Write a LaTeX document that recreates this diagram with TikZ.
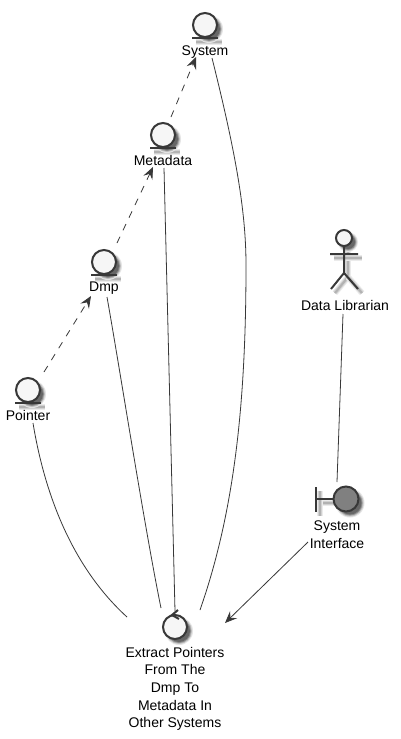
\documentclass[tikz,border=0pt]{standalone}
\usepackage{fontspec}
\setmainfont{Liberation Sans}
\usetikzlibrary{arrows.meta}
\definecolor{ink}{HTML}{383838}
\definecolor{paper}{HTML}{F6F6F6}
\definecolor{bfill}{HTML}{808080}
\tikzset{
  x=1pt,y=-1pt,
  lab/.style={font=\fontsize{14}{17.6}\selectfont,text=black,align=center,inner sep=0pt,anchor=north},
  sym/.style={draw=ink,line width=2pt},
  edge/.style={draw=ink,line width=0.8pt},
  tip/.style={-{Stealth[length=12pt,width=10pt,inset=4.5pt]}},
  dep/.style={edge,tip,dash pattern=on 7pt off 7pt}
}
\newcommand{\softdisc}[3]{% centre x,y radius
  \fill[black!10] (#1+4,#2+4) circle[radius=#3+2];
  \fill[black!25] (#1+4,#2+4) circle[radius=#3+1];
  \fill[black!45] (#1+4,#2+4) circle[radius=#3];
  \fill[black!60] (#1+4,#2+4) circle[radius=#3-1];
}
\newcommand{\softline}[4]{%
  \draw[black!8,line width=6pt] (#1+4,#2+4) -- (#3+4,#4+4);
  \draw[black!18,line width=4pt] (#1+4,#2+4) -- (#3+4,#4+4);
  \draw[black!30,line width=2pt] (#1+4,#2+4) -- (#3+4,#4+4);
}
\newcommand{\entitysym}[2]{%
  \softline{#1-13}{#2+13}{#1+13}{#2+13}\softdisc{#1}{#2}{12}
  \draw[sym,fill=paper] (#1,#2) circle[radius=12];
  \draw[sym] (#1-13,#2+13) -- (#1+13,#2+13);
}
\begin{document}
\begin{tikzpicture}
\useasboundingbox (0,0) rectangle (400,739);
\fill[white] (0,0) rectangle (400,739);

% entities
\entitysym{205}{25}
\entitysym{163}{135}
\entitysym{104}{262}
\entitysym{28}{390}
\node[lab] (system) at (205,45.5) {System};
\node[lab] (metadata) at (163,155) {Metadata};
\node[lab] (dmp) at (104,282) {Dmp};
\node[lab] (pointer) at (28,410) {Pointer};

% actor
\softline{344}{246}{344}{273}
\softline{330}{254}{358}{254}
\softline{344}{273}{331}{289}
\softline{344}{273}{358}{289}
\softdisc{344}{238}{8}
\draw[sym,fill=paper] (344,238) circle[radius=8];
\draw[sym] (344,246) -- (344,273) (330,254) -- (358,254)
           (331,289) -- (344,273) -- (358,289);
\node[lab] (librarian) at (345,300) {Data Librarian};

% boundary
\softline{316}{499}{333}{499}
\softline{316}{487}{316}{512}
\softdisc{346}{499}{12.5}
\draw[sym] (316,487) -- (316,512) (316,499) -- (333,499);
\draw[sym,fill=bfill] (346,499) circle[radius=12.5];
\node[lab] (iface) at (337,521) {System\\Interface};

% control
\softdisc{175}{627}{12}
\draw[sym,fill=paper] (175,627) circle[radius=12];
\draw[sym,line join=miter] (178,610) -- (172,615) -- (179,619);
\node[lab] (usecase) at (175,647) {Extract Pointers\\From The\\Dmp To\\Metadata In\\Other Systems};

% connector ends
\coordinate (pointerDep) at (44,372);
\coordinate (dmpIn) at (91,296);
\coordinate (dmpDep) at (117,243);
\coordinate (metaIn) at (153,167);
\coordinate (metaDep) at (171,117);
\coordinate (sysIn) at (196,57);
\coordinate (pointerLine) at (33,423);
\coordinate (ucA) at (127,617);
\coordinate (dmpLine) at (107,297);
\coordinate (ucB) at (161,608);
\coordinate (metaLine) at (164,168);
\coordinate (ucC) at (175,611);
\coordinate (sysLine) at (212,58);
\coordinate (sysMid) at (246,265);
\coordinate (ucD) at (200,610);
\coordinate (libLine) at (343,314);
\coordinate (ifaceTop) at (337,482);
\coordinate (ifaceOut) at (308,542);
\coordinate (ucE) at (225,623);

% connectors
\draw[dep] (pointerDep) -- (dmpIn);
\draw[dep] (dmpDep) -- (metaIn);
\draw[dep] (metaDep) -- (sysIn);
\draw[edge] (pointerLine) .. controls (44,490) and (70,565) .. (ucA);
\draw[edge] (dmpLine) .. controls (120,370) and (145,530) .. (ucB);
\draw[edge] (metaLine) -- (ucC);
\draw[edge] (sysLine) .. controls (235,150) and (246,210) .. (sysMid)
                      .. controls (246,400) and (235,510) .. (ucD);
\draw[edge] (libLine) -- (ifaceTop);
\draw[edge,tip] (ifaceOut) -- (ucE);
\end{tikzpicture}
\end{document}
